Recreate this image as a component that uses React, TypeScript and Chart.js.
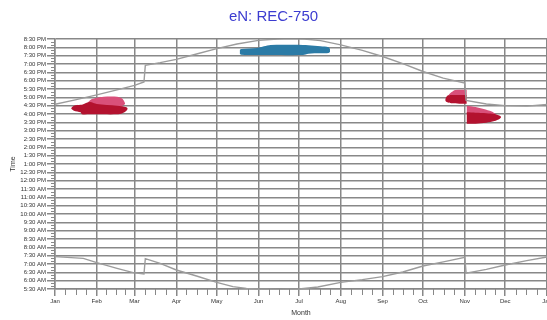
import { useEffect, useRef } from 'react';
import { Chart, registerables } from 'chart.js';

Chart.register(...registerables);

const TITLE = 'eN: REC-750';
const X_TITLE = 'Month';
const Y_TITLE = 'Time';

// x axis: day of year
const monthLabels = ['Jan', 'Feb', 'Mar', 'Apr', 'May', 'Jun', 'Jul', 'Aug', 'Sep', 'Oct', 'Nov', 'Dec', 'Jan'];
const monthStartDays = [0, 31, 59, 90, 120, 151, 181, 212, 243, 273, 304, 334, 365];

// y axis: hour of day
const yMin = 5.5;
const yMax = 20.5;
const yStep = 0.5;

// sunset line
const sunsetDays = [0, 15, 31, 46, 59, 66, 67, 78, 90, 105, 120, 135, 151, 165, 175, 185, 197, 212, 228, 243, 258, 273, 288, 304, 305, 320, 334, 350, 365];
const sunsetHours = [16.58, 16.85, 17.15, 17.45, 17.72, 17.92, 18.92, 19.08, 19.28, 19.6, 19.92, 20.2, 20.42, 20.5, 20.52, 20.5, 20.4, 20.15, 19.82, 19.45, 19.02, 18.55, 18.15, 17.85, 16.82, 16.6, 16.5, 16.47, 16.57];

// sunrise line
const sunriseDays = [0, 21, 31, 46, 58, 66, 67, 78, 90, 105, 120, 132, 142, 151, 165, 181, 195, 212, 228, 243, 258, 273, 289, 304, 305, 320, 334, 350, 365];
const sunriseHours = [7.44, 7.34, 7.08, 6.74, 6.48, 6.4, 7.32, 7.04, 6.64, 6.28, 5.9, 5.64, 5.54, 5.5, 5.48, 5.5, 5.62, 5.9, 6.06, 6.24, 6.52, 6.88, 7.14, 7.4, 6.45, 6.68, 6.94, 7.2, 7.42];

// glare areas (day, lower hour, upper hour)
const febDarkDays = [12, 14, 19, 20, 26, 31, 46, 50, 53, 54];
const febDarkLow = [16.32, 16.2, 16.1, 15.98, 15.98, 15.98, 15.98, 16.05, 16.2, 16.3];
const febDarkHigh = [16.36, 16.5, 16.55, 16.56, 16.72, 16.6, 16.5, 16.46, 16.4, 16.32];

const febPinkDays = [24, 27, 31, 36, 46, 50, 52];
const febPinkLow = [16.6, 16.55, 16.5, 16.48, 16.48, 16.5, 16.6];
const febPinkHigh = [16.65, 16.88, 16.98, 17.04, 17.04, 16.92, 16.65];

const junBlueDays = [137, 138, 150, 155, 160, 184, 188, 197, 203, 204];
const junBlueLow = [19.62, 19.56, 19.54, 19.54, 19.54, 19.54, 19.62, 19.64, 19.66, 19.72];
const junBlueHigh = [19.84, 19.9, 19.96, 20.06, 20.14, 20.14, 20.12, 20.06, 20.0, 19.9];

const octDarkDays = [289.5, 291, 294, 300, 305.5];
const octDarkLow = [16.8, 16.7, 16.64, 16.62, 16.62];
const octDarkHigh = [16.9, 17.1, 17.14, 17.14, 17.14];

const octPinkDays = [292, 294, 297, 305.5];
const octPinkLow = [17.12, 17.1, 17.1, 17.1];
const octPinkHigh = [17.16, 17.3, 17.44, 17.46];

const novPinkDays = [305.3, 312, 318, 324, 327];
const novPinkLow = [16.05, 16.02, 16.0, 15.98, 15.96];
const novPinkHigh = [16.5, 16.42, 16.3, 16.15, 16.0];

const novDarkDays = [305.3, 312, 320, 326, 330, 331];
const novDarkLow = [15.42, 15.42, 15.48, 15.58, 15.72, 15.8];
const novDarkHigh = [16.1, 16.08, 16.05, 16.0, 15.9, 15.82];

const GRID = '#888888';
const LINE = '#9c9c9c';
const CRIMSON = '#b3122f';
const PINK = '#d9507a';
const BLUE = '#2b7ba6';
const FONT = "'Liberation Sans', Arial, sans-serif";

const pts = (xs: number[], ys: number[]) => xs.map((x, i) => ({ x, y: ys[i] }));

const fmtTime = (v: number) => {
  const tot = Math.round(v * 60);
  const h = Math.floor(tot / 60);
  const m = tot % 60;
  const ap = h >= 12 ? 'PM' : 'AM';
  let h12 = h % 12;
  if (h12 === 0) h12 = 12;
  return `${h12}:${String(m).padStart(2, '0')} ${ap}`;
};

function areaPair(days: number[], low: number[], high: number[], color: string) {
  return [
    {
      data: pts(days, low),
      borderWidth: 0,
      pointRadius: 0,
      tension: 0.3,
      fill: false,
      order: 1,
    },
    {
      data: pts(days, high),
      borderWidth: 0,
      pointRadius: 0,
      tension: 0.3,
      fill: '-1',
      backgroundColor: color,
      order: 1,
    },
  ];
}

const minorTicks = {
  id: 'minorTicks',
  afterDraw(chart: any) {
    const { ctx, chartArea } = chart;
    const x = chart.scales.x;
    const y = chart.scales.y;
    ctx.save();
    ctx.strokeStyle = GRID;
    ctx.lineWidth = 1;
    ctx.beginPath();
    for (let i = 0; i < monthStartDays.length - 1; i++) {
      const a = monthStartDays[i];
      const b = monthStartDays[i + 1];
      for (let k = 1; k < 4; k++) {
        const px = Math.round(x.getPixelForValue(a + ((b - a) * k) / 4)) + 0.5;
        ctx.moveTo(px, chartArea.bottom);
        ctx.lineTo(px, chartArea.bottom + 6);
      }
    }
    for (let v = yMin; v < yMax - 1e-6; v += yStep) {
      for (let k = 1; k < 3; k++) {
        const py = Math.round(y.getPixelForValue(v + (yStep * k) / 3)) + 0.5;
        ctx.moveTo(chartArea.left - 4, py);
        ctx.lineTo(chartArea.left, py);
      }
    }
    ctx.stroke();
    ctx.restore();
  },
};

export default function App() {
  const ref = useRef<HTMLCanvasElement>(null);
  useEffect(() => {
    document.body.style.margin = '0';
    const datasets: any[] = [
      {
        data: pts(sunsetDays, sunsetHours),
        borderColor: LINE,
        borderWidth: 1.4,
        pointRadius: 0,
        fill: false,
        order: 0,
      },
      {
        data: pts(sunriseDays, sunriseHours),
        borderColor: LINE,
        borderWidth: 1.4,
        pointRadius: 0,
        fill: false,
        order: 0,
        clip: 4,
      },
      ...areaPair(febDarkDays, febDarkLow, febDarkHigh, CRIMSON),
      ...areaPair(febPinkDays, febPinkLow, febPinkHigh, PINK),
      ...areaPair(junBlueDays, junBlueLow, junBlueHigh, BLUE),
      ...areaPair(octDarkDays, octDarkLow, octDarkHigh, CRIMSON),
      ...areaPair(octPinkDays, octPinkLow, octPinkHigh, PINK),
      ...areaPair(novDarkDays, novDarkLow, novDarkHigh, CRIMSON),
      ...areaPair(novPinkDays, novPinkLow, novPinkHigh, PINK),
    ];
    const chart = new Chart(ref.current!, {
      type: 'line',
      data: { datasets },
      plugins: [minorTicks],
      options: {
        animation: false,
        responsive: false,
        devicePixelRatio: 1,
        layout: { padding: 0 },
        plugins: {
          legend: { display: false },
          tooltip: { enabled: false },
          title: {
            display: true,
            text: TITLE,
            color: '#3c3cd0',
            font: { family: FONT, size: 15, weight: 'normal', lineHeight: 1.2 },
            padding: { top: 8, bottom: 13 },
          },
        },
        scales: {
          x: {
            type: 'linear',
            min: 0,
            max: 365,
            afterBuildTicks: (s: any) => {
              s.ticks = monthStartDays.map((v) => ({ value: v }));
            },
            afterFit: (s: any) => {
              s.height = 31;
              s.paddingLeft = 0;
              s.paddingRight = 0;
            },
            ticks: {
              autoSkip: false,
              maxRotation: 0,
              padding: 2,
              color: '#333',
              font: { family: FONT, size: 6 },
              callback: (_v: any, i: number) => monthLabels[i],
            },
            grid: { color: GRID, lineWidth: 1.5, tickLength: 7, tickColor: GRID },
            border: { color: GRID, width: 1.5 },
            title: {
              display: true,
              text: X_TITLE,
              color: '#333',
              font: { family: FONT, size: 7 },
              padding: { top: 0, bottom: 3 },
            },
          },
          y: {
            type: 'linear',
            min: yMin,
            max: yMax,
            afterFit: (s: any) => {
              s.width = 55;
              s.paddingTop = 0;
              s.paddingBottom = 0;
            },
            ticks: {
              stepSize: yStep,
              autoSkip: false,
              padding: 1,
              color: '#333',
              font: { family: FONT, size: 6 },
              callback: (v: any) => fmtTime(Number(v)),
            },
            grid: { color: GRID, lineWidth: 1.5, tickLength: 8, tickColor: GRID },
            border: { color: GRID, width: 1.5 },
            title: {
              display: true,
              text: Y_TITLE,
              color: '#333',
              font: { family: FONT, size: 7 },
              padding: { top: 9, bottom: 0 },
            },
          },
        },
      },
    } as any);
    return () => chart.destroy();
  }, []);
  return (
    <div style={{ width: 547, height: 320 }}>
      <canvas ref={ref} width={547} height={320} style={{ display: 'block' }} />
    </div>
  );
}
